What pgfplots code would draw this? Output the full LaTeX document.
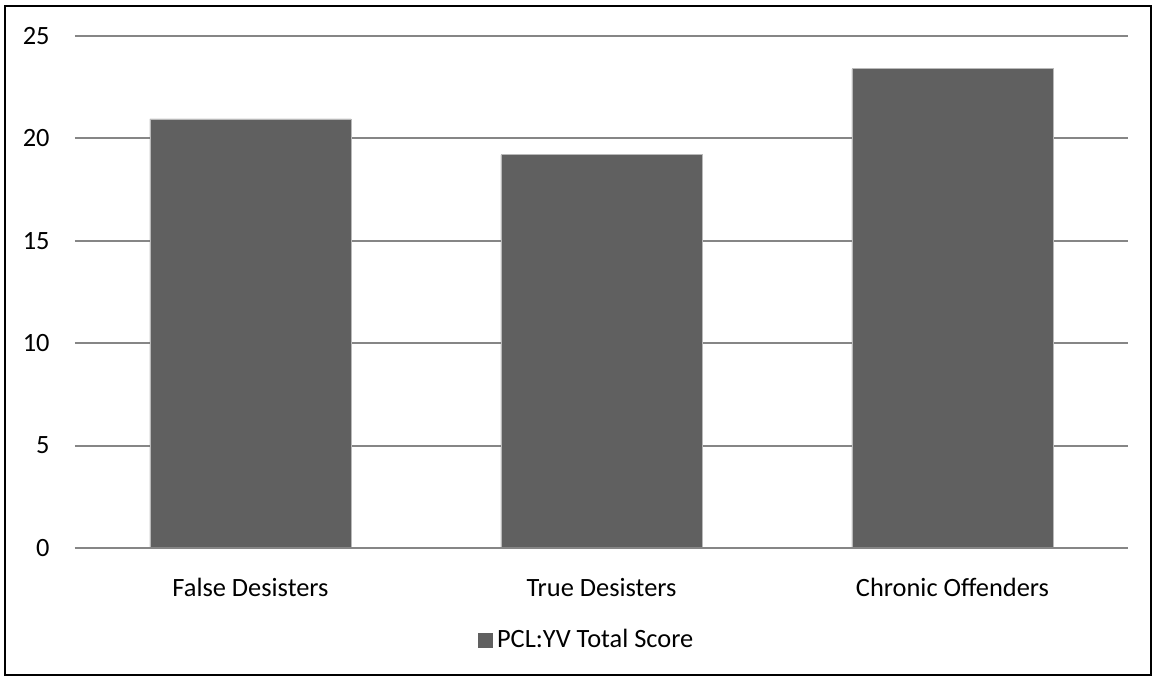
\documentclass[border=0pt]{standalone}
\usepackage{pgfplots}
\pgfplotsset{compat=1.18}
\usepackage{fontspec}
\setmainfont{Carlito}
\definecolor{barfill}{RGB}{96,96,96}
\definecolor{gridc}{RGB}{134,134,134}
\begin{document}
\begin{tikzpicture}
\useasboundingbox (-37.5pt,-64.5pt) rectangle (539pt,274pt);
\begin{axis}[
  at={(0,0)}, anchor=south west,
  scale only axis,
  width=526.5pt, height=256pt,
  xmin=-0.5, xmax=2.5, ymin=0, ymax=25,
  axis line style={draw=none},
  xtick={0,1,2},
  xticklabels={False Desisters, True Desisters, Chronic Offenders},
  ytick={0,5,10,15,20,25},
  ymajorgrids,
  grid style={gridc, line width=1pt},
  major tick length=0pt,
  tick label style={font=\fontsize{13.2}{15}\selectfont, black},
  /pgf/number format/assume math mode=true,
  yticklabel style={anchor=east, inner sep=0pt, xshift=-12.5pt},
  xticklabel style={anchor=north, inner sep=0pt, yshift=-15pt},
  legend style={at={(0.487,-0.18)}, anchor=center, draw=none, fill=none,
    font=\fontsize{13.2}{15}\selectfont, inner sep=0pt},
  legend image code/.code={\fill[barfill] (0pt,-3.5pt) rectangle (7pt,3.5pt);},
  clip=false,
]
\addplot[ybar, bar width=100.5pt, fill=barfill, draw=gray!55, line width=0.4pt]
  coordinates {(0,20.95) (1,19.2) (2,23.4)};
\addlegendentry{PCL:YV Total Score}
\draw[gridc, line width=1pt] (axis cs:-0.5,0) -- (axis cs:2.5,0);
\end{axis}
\draw[black, line width=1pt] (-35pt,-63.5pt) rectangle (538pt,271pt);
\end{tikzpicture}
\end{document}
